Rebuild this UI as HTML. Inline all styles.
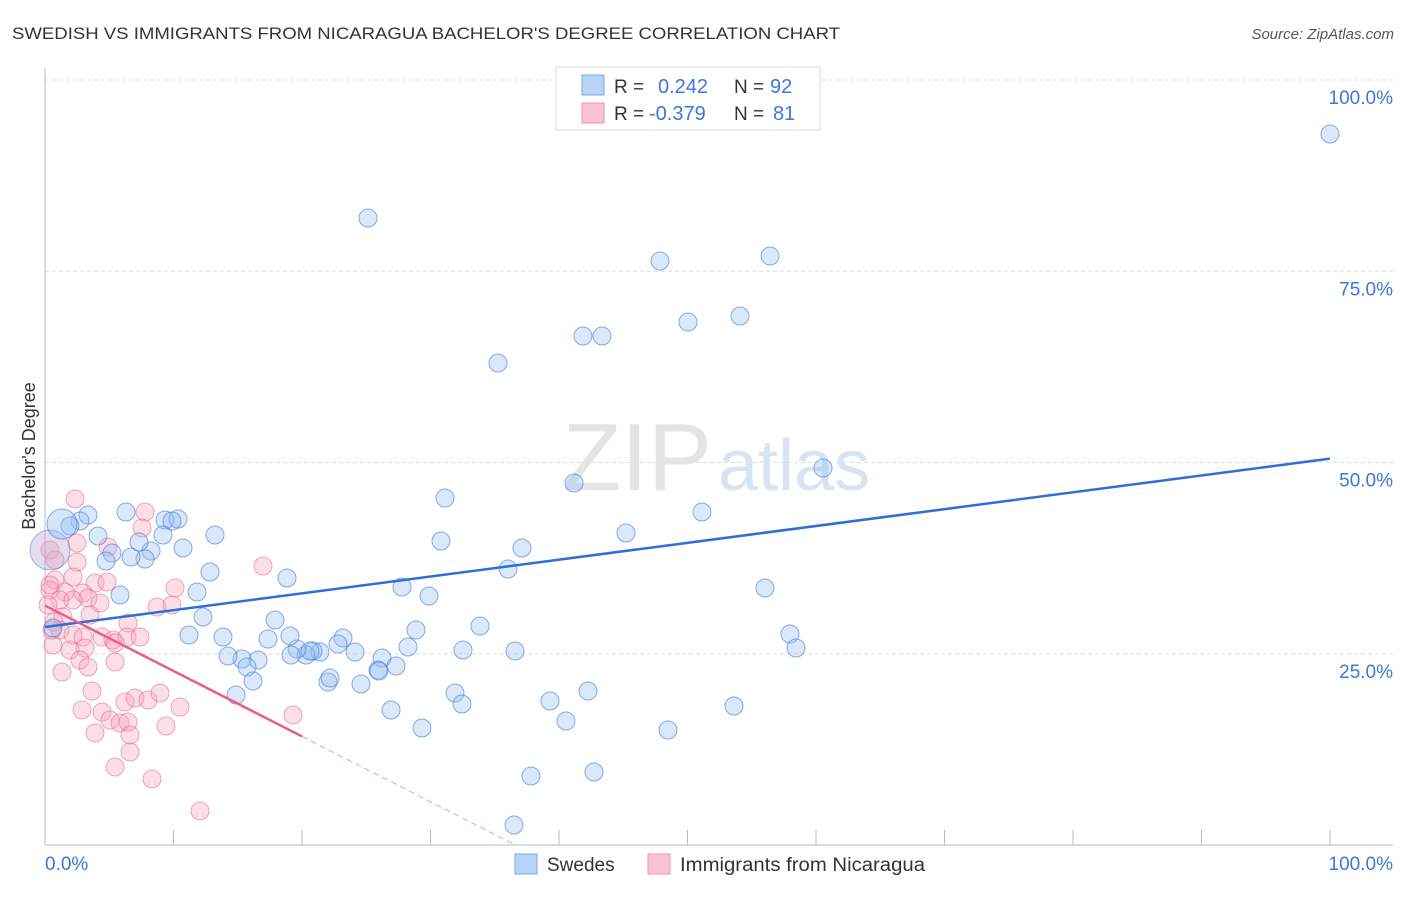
<!DOCTYPE html>
<html><head><meta charset="utf-8"><style>
body{margin:0;background:#fff;font-family:"Liberation Sans",sans-serif;}
svg text{font-family:"Liberation Sans",sans-serif;}
</style></head><body>
<svg width="1406" height="892">
<text x="12" y="39" font-size="17" fill="#333" textLength="828" lengthAdjust="spacingAndGlyphs">SWEDISH VS IMMIGRANTS FROM NICARAGUA BACHELOR'S DEGREE CORRELATION CHART</text>
<text x="1394" y="39" font-size="15" fill="#555" font-style="italic" text-anchor="end">Source: ZipAtlas.com</text>
<g id="grid"></g>
<text x="712" y="490" font-size="96" fill="#e4e4e4" text-anchor="end" font-family="Liberation Serif">ZIP</text>
<text x="718" y="490" font-size="72" fill="#d6e4f4">atlas</text>
<g id="pts"></g>
<g id="lines"></g>
<text x="35" y="456" font-size="18" fill="#333" text-anchor="middle" transform="rotate(-90 35 456)">Bachelor's Degree</text>
<text x="45" y="870" font-size="19" fill="#3c78d8">0.0%</text>
<text x="1393" y="870" font-size="19" fill="#3c78d8" text-anchor="end">100.0%</text>
<g>
<rect x="556" y="67" width="264" height="63" fill="#fff" stroke="#ddd"/>
<rect x="582" y="75" width="22" height="20" fill="#b8d3f5" stroke="#7aa7e6"/>
<rect x="582" y="103" width="22" height="20" fill="#f9c3d3" stroke="#ee90ae"/>
<text x="614" y="93" font-size="19" fill="#333">R =</text>
<text x="658" y="93" font-size="20" fill="#3c78d8">0.242</text>
<text x="734" y="93" font-size="19" fill="#333">N =</text>
<text x="770" y="93" font-size="20" fill="#3c78d8">92</text>
<text x="614" y="120" font-size="19" fill="#333">R =</text>
<text x="649" y="120" font-size="20" fill="#3c78d8">-0.379</text>
<text x="734" y="120" font-size="19" fill="#333">N =</text>
<text x="773" y="120" font-size="20" fill="#3c78d8">81</text>
</g>
<rect x="515" y="854" width="22" height="20" fill="#b8d3f5" stroke="#7aa7e6"/>
<text x="547" y="871" font-size="19" fill="#333">Swedes</text>
<rect x="648" y="854" width="22" height="20" fill="#f9c3d3" stroke="#ee90ae"/>
<text x="680" y="871" font-size="19" fill="#333" textLength="245" lengthAdjust="spacingAndGlyphs">Immigrants from Nicaragua</text>
</svg>
<script>
const yTicks=[25,50,75,100];
const xTicks=[0,10,20,30,40,50,60,70,80,90,100];
const bluePx=[[1330,134],[368,218],[660,261],[770,256],[688,322],[740,316],[583,336],[602,336],[498,363],[823,468],[574,483],[445,498],[702,512],[626,533],[441,541],[522,548],[508,569],[402,587],[429,596],[765,588],[790,634],[796,648],[480,626],[416,630],[463,650],[515,651],[408,647],[382,658],[396,666],[378,670],[355,652],[343,638],[338,644],[320,652],[313,651],[306,655],[297,649],[291,655],[275,620],[268,639],[287,578],[258,660],[242,659],[247,667],[236,695],[253,681],[228,656],[223,637],[189,635],[203,617],[210,572],[197,592],[215,535],[183,548],[165,520],[178,519],[172,521],[151,551],[163,535],[145,559],[131,557],[139,542],[126,512],[112,553],[106,561],[120,595],[98,536],[88,515],[80,521],[70,526],[53,628],[328,682],[330,678],[361,684],[379,671],[391,710],[422,728],[455,693],[462,704],[550,701],[566,721],[588,691],[668,730],[734,706],[531,776],[594,772],[514,825],[290,636],[310,651]];
const pinkPx=[[75,499],[145,512],[142,528],[77,543],[108,547],[77,562],[73,577],[55,580],[50,590],[65,592],[95,583],[107,582],[83,593],[88,598],[60,600],[73,600],[100,603],[175,588],[157,607],[172,605],[90,615],[63,617],[263,566],[128,623],[60,630],[73,635],[83,637],[102,637],[113,640],[127,637],[140,637],[115,643],[53,645],[85,648],[70,650],[80,660],[115,662],[88,667],[62,672],[92,691],[82,710],[102,712],[125,702],[135,698],[148,700],[160,693],[180,707],[110,720],[120,723],[128,722],[95,733],[130,735],[166,726],[130,752],[115,767],[152,779],[200,811],[293,715],[50,550],[55,560],[50,585],[48,605],[54,622],[52,630]];
const blueX=bluePx.map(p=>(p[0]-45)/12.85), blueY=bluePx.map(p=>(845-p[1])/7.65);
const pinkX=pinkPx.map(p=>(p[0]-45)/12.85), pinkY=pinkPx.map(p=>(845-p[1])/7.65);
const blueTrend=[28.5,50.5], pinkTrend=[31.3,14.2];
const NS='http://www.w3.org/2000/svg';
const X=v=>45+v*12.85, Y=v=>845-v*7.65;
function mk(t,a,p){const e=document.createElementNS(NS,t);for(const k in a)e.setAttribute(k,a[k]);p.appendChild(e);return e;}
const g=document.getElementById('grid');
for(const t of yTicks){
 const l=mk('line',{x1:45,x2:1393,y1:Y(t),y2:Y(t),stroke:'#ddd','stroke-dasharray':'4,3'},g);
 
 
 const tx=mk('text',{x:1393,y:Y(t)+24,'font-size':19,fill:'#3c78d8','text-anchor':'end'},g);
 tx.textContent=t.toFixed(1)+'%';
 
 
}
const ax=mk('line',{x1:45,x2:1393,y1:845,y2:845,stroke:'#bbb'},g);


const ay=mk('line',{x1:45,x2:45,y1:68,y2:845,stroke:'#bbb'},g);


for(const t of xTicks){
 const l=mk('line',{x1:X(t),x2:X(t),y1:830,y2:845,stroke:'#bbb'},g);
 
 
}
const pg=document.getElementById('pts');
pinkX.forEach((x,i)=>{const c=mk('circle',{cx:X(x),cy:Y(pinkY[i]),r:9,fill:'rgba(246,160,186,0.35)',stroke:'rgba(232,110,150,0.6)'},pg);
 
 });
blueX.forEach((x,i)=>{const c=mk('circle',{cx:X(x),cy:Y(blueY[i]),r:9,fill:'rgba(150,190,240,0.35)',stroke:'rgba(60,120,216,0.6)'},pg);
 
 });
const b1=mk('circle',{cx:50,cy:550,r:20,fill:'rgba(190,170,210,0.4)',stroke:'rgba(60,120,216,0.5)'},pg);


const b2=mk('circle',{cx:62,cy:524,r:15,fill:'rgba(150,190,240,0.4)',stroke:'rgba(60,120,216,0.6)'},pg);


const lg=document.getElementById('lines');
const bl=mk('line',{x1:X(0),y1:Y(blueTrend[0]),x2:X(100),y2:Y(blueTrend[1]),stroke:'#2e6fd6','stroke-width':2.5},lg);


const ps=(pinkTrend[1]-pinkTrend[0])/20;
const pl=mk('line',{x1:X(0),y1:Y(pinkTrend[0]),x2:X(20),y2:Y(pinkTrend[1]),stroke:'#e8608e','stroke-width':2.5},lg);


const pd=mk('line',{x1:X(20),y1:Y(pinkTrend[1]),x2:X(36.6),y2:Y(pinkTrend[0]+ps*36.6),stroke:'#e8a0b8','stroke-width':1,'stroke-dasharray':'6,4'},lg);


</script>
</body></html>
